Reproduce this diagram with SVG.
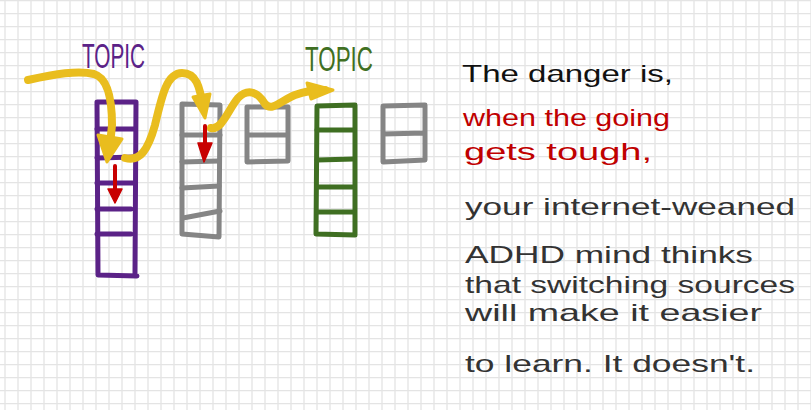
<svg xmlns="http://www.w3.org/2000/svg" width="811" height="410" viewBox="0 0 811 410">
<style>
.col{fill:none;stroke-width:5;stroke-linecap:round;stroke-linejoin:round}
.purple{stroke:#5b2287}
.gray{stroke:#858585}
.green{stroke:#3f6f22}
.yl{fill:none;stroke:#e9bd1e;stroke-width:8;stroke-linecap:round;stroke-linejoin:round}
.yh{fill:#e9bd1e;stroke:#e9bd1e;stroke-width:3;stroke-linejoin:round}
.rl{fill:none;stroke:#c80000;stroke-width:4;stroke-linecap:round}
.rh{fill:#c80000;stroke:#c80000;stroke-width:1.5;stroke-linejoin:round}
.t{font-family:"Liberation Sans",Arial,sans-serif}
.big{font-size:24px;fill:#333333}
.topic{font-family:"Liberation Sans Narrow","Liberation Sans",Arial,sans-serif;font-size:35px}
</style>
<defs>
<pattern id="grid" x="4" y="0" width="13" height="13" patternUnits="userSpaceOnUse">
<path d="M1,0 V13 M0,0.5 H13" stroke="#e4e4e4" stroke-width="1.3" fill="none"/>
</pattern>
</defs>
<rect width="811" height="410" fill="#ffffff"/>
<rect width="811" height="410" fill="url(#grid)"/>

<g id="topic-label-purple">
<text class="topic" x="82" y="68" fill="#5b2287" textLength="63" lengthAdjust="spacingAndGlyphs">TOPIC</text>
</g>
<g id="topic-label-green">
<text class="topic" x="305" y="71" fill="#3f6f22" textLength="68" lengthAdjust="spacingAndGlyphs">TOPIC</text>
</g>

<g id="column-purple" class="col purple">
<path d="M97,102 L98,275 L137,276 M97,102 L136,102 L135,273"/>
<path d="M97,129 L135,129 M97,158 L135,157 M97,183 L134,183 M97,209 L131,209 M97,234 L131,234"/>
</g>
<g id="column-gray-1" class="col gray">
<path d="M182,104 L220,105 L219,237 L182,234 Z"/>
<path d="M182,135 L220,135 M182,162 L219,161 M182,188 L219,186 M183,218 L220,211"/>
</g>
<g id="box-gray-2" class="col gray">
<path d="M247,107 L288,107 L288,161 L247,162 Z M247,135 L288,135"/>
</g>
<g id="column-green" class="col green">
<path d="M317,106 L355,105 L355,235 L316,234 Z"/>
<path d="M317,130 L354,130 M317,160 L354,159 M317,187 L354,187 M317,212 L354,212"/>
</g>
<g id="box-gray-3" class="col gray">
<path d="M383,106 L425,105 L425,160 L383,162 Z M383,134 L425,133"/>
</g>

<g id="connectors">
<path class="yl" d="M28,80 C55,74 78,70 94,74 C108,78 112,100 112,125 L110,145"/>
<path class="yh" d="M98,135 L122,139 L107,162 Z"/>
<path class="yl" d="M125,158 C140,162 148,150 155,125 C162,95 167,73 182,73 C196,73 200,86 203,108"/>
<path class="yh" d="M193,97 L210,94 L205,118 Z"/>
<path class="yl" d="M211,128 C222,130 228,110 238,98 C248,88 258,92 265,104 C272,112 282,100 295,95 C308,90 318,90 325,90"/>
<path class="yh" d="M307,83 L333,90 L311,99 Z"/>
<path class="rl" d="M115,166 L115,190"/>
<path class="rh" d="M108,189 L122,189 L115,203 Z"/>
<path class="rl" d="M205,126 L205,146"/>
<path class="rh" d="M198,143 L212,143 L204,162 Z"/>
</g>

<g id="caption">
<text class="t" x="462" y="82" font-size="24" fill="#111111" textLength="211" lengthAdjust="spacingAndGlyphs">The danger is,</text>
<text class="t" x="463" y="126" font-size="24" fill="#c00000" textLength="207" lengthAdjust="spacingAndGlyphs">when the going</text>
<text class="t" x="464" y="160" font-size="24" fill="#c00000" textLength="188" lengthAdjust="spacingAndGlyphs">gets tough,</text>
<text class="t big" x="465" y="215" textLength="330" lengthAdjust="spacingAndGlyphs">your internet-weaned</text>
<text class="t big" x="465" y="263" textLength="288" lengthAdjust="spacingAndGlyphs">ADHD mind thinks</text>
<text class="t big" x="465" y="293" textLength="330" lengthAdjust="spacingAndGlyphs">that switching sources</text>
<text class="t big" x="465" y="321" textLength="297" lengthAdjust="spacingAndGlyphs">will make it easier</text>
<text class="t big" x="465" y="372" textLength="290" lengthAdjust="spacingAndGlyphs">to learn. It doesn't.</text>
</g>
</svg>
